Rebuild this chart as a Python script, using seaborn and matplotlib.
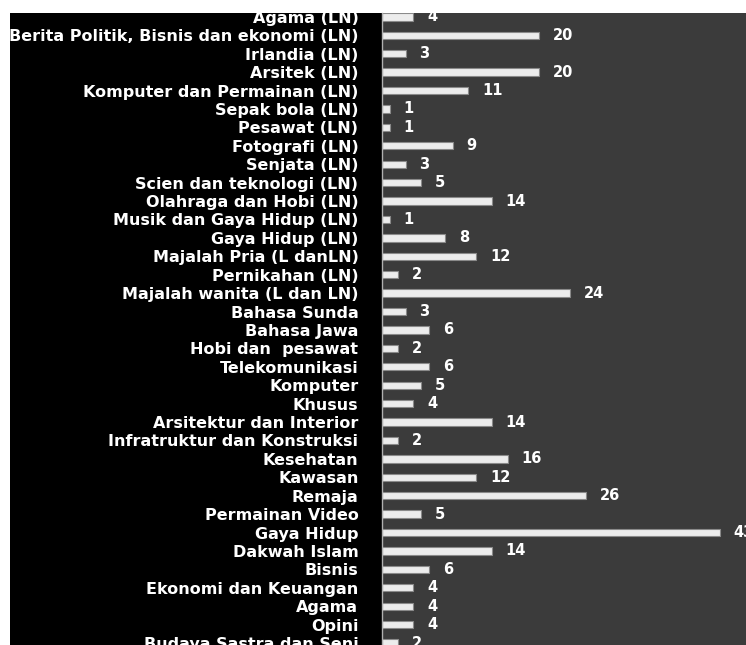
import matplotlib
matplotlib.use("Agg")
import matplotlib.pyplot as plt
import seaborn as sns
import pandas as pd
from matplotlib.patches import Rectangle

categories = [
    "Agama (LN)",
    "Berita Politik, Bisnis dan ekonomi (LN)",
    "Irlandia (LN)",
    "Arsitek (LN)",
    "Komputer dan Permainan (LN)",
    "Sepak bola (LN)",
    "Pesawat (LN)",
    "Fotografi (LN)",
    "Senjata (LN)",
    "Scien dan teknologi (LN)",
    "Olahraga dan Hobi (LN)",
    "Musik dan Gaya Hidup (LN)",
    "Gaya Hidup (LN)",
    "Majalah Pria (L danLN)",
    "Pernikahan (LN)",
    "Majalah wanita (L dan LN)",
    "Bahasa Sunda",
    "Bahasa Jawa",
    "Hobi dan  pesawat",
    "Telekomunikasi",
    "Komputer",
    "Khusus",
    "Arsitektur dan Interior",
    "Infratruktur dan Konstruksi",
    "Kesehatan",
    "Kawasan",
    "Remaja",
    "Permainan Video",
    "Gaya Hidup",
    "Dakwah Islam",
    "Bisnis",
    "Ekonomi dan Keuangan",
    "Agama",
    "Opini",
    "Budaya Sastra dan Seni",
]
values = [4, 20, 3, 20, 11, 1, 1, 9, 3, 5, 14, 1, 8, 12, 2, 24, 3, 6, 2, 6,
          5, 4, 14, 2, 16, 12, 26, 5, 43, 14, 6, 4, 4, 4, 2]

df = pd.DataFrame({"kategori": categories, "jumlah": values})

sns.set_theme(style="white")
plt.rcParams["font.family"] = ["DejaVu Sans"]

W, H = 746, 645
fig = plt.figure(figsize=(W / 100, H / 100), dpi=100)
fig.patch.set_facecolor("white")

# black label panel
fig.patches.append(Rectangle((10 / W, 0), (382 - 10) / W, (H - 13) / H,
                             transform=fig.transFigure, facecolor="black",
                             edgecolor="none", zorder=-5))

ax = fig.add_axes([382 / W, 0, (W - 382) / W, (H - 13) / H])
ax.set_facecolor("#3b3b3b")

sns.barplot(data=df, x="jumlah", y="kategori", orient="h", ax=ax,
            color="#ececec", width=0.4, edgecolor="#8a8a8a", linewidth=0.8,
            saturation=1)

n = len(categories)
row_px = 18.97
ax.set_ylim(n - 1 + 2 / row_px, -4 / row_px)
ax.set_xlim(0, (W - 382) / 7.85)

for c in ax.containers:
    ax.bar_label(c, padding=10, color="white", fontsize=10.5, fontweight="bold",
                 clip_on=False)

ax.set_xlabel("")
ax.set_ylabel("")
ax.set_xticks([])
ax.tick_params(axis="y", length=0, pad=17, labelsize=11.5, labelcolor="white")
for lab in ax.get_yticklabels():
    lab.set_fontweight("bold")
for s in ["top", "right", "bottom"]:
    ax.spines[s].set_visible(False)
ax.spines["left"].set_color("#b0b0b0")
ax.spines["left"].set_linewidth(1.0)

fig.savefig("out.png", dpi=100, facecolor=fig.get_facecolor())
